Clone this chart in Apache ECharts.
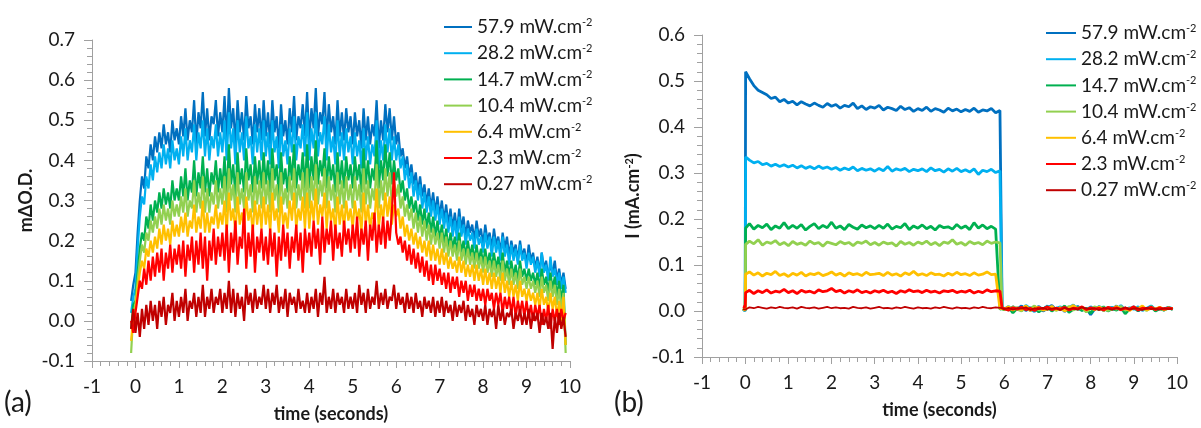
<!DOCTYPE html>
<html><head><meta charset="utf-8">
<script src="https://cdn.jsdelivr.net/npm/echarts@6.0.0/dist/echarts.min.js"></script>
<style>html,body{margin:0;padding:0;background:#fff}#c{width:1201px;height:428px}</style>
</head><body><div id="c"></div>
<script>
const names = ['57.9 mW.cm-2','28.2 mW.cm-2','14.7 mW.cm-2','10.4 mW.cm-2','6.4 mW.cm-2','2.3 mW.cm-2','0.27 mW.cm-2'];
const colors = ['#0070C0','#00B0F0','#00B050','#92D050','#FFC000','#FF0000','#C00000'];
const xTicks = [-1,0,1,2,3,4,5,6,7,8,9,10];

// Panel (a): time (s) and mΔO.D.
const tA = [-0.10,-0.05,
0.00,0.05,0.10,0.15,0.20,0.25,0.30,0.35,0.40,0.45,0.50,0.55,0.60,0.65,0.70,0.75,0.80,0.85,0.90,0.95,
1.00,1.05,1.10,1.15,1.20,1.25,1.30,1.35,1.40,1.45,1.50,1.55,1.60,1.65,1.70,1.75,1.80,1.85,1.90,1.95,
2.00,2.05,2.10,2.15,2.20,2.25,2.30,2.35,2.40,2.45,2.50,2.55,2.60,2.65,2.70,2.75,2.80,2.85,2.90,2.95,
3.00,3.05,3.10,3.15,3.20,3.25,3.30,3.35,3.40,3.45,3.50,3.55,3.60,3.65,3.70,3.75,3.80,3.85,3.90,3.95,
4.00,4.05,4.10,4.15,4.20,4.25,4.30,4.35,4.40,4.45,4.50,4.55,4.60,4.65,4.70,4.75,4.80,4.85,4.90,4.95,
5.00,5.05,5.10,5.15,5.20,5.25,5.30,5.35,5.40,5.45,5.50,5.55,5.60,5.65,5.70,5.75,5.80,5.85,5.90,5.95,
6.00,6.05,6.10,6.15,6.20,6.25,6.30,6.35,6.40,6.45,6.50,6.55,6.60,6.65,6.70,6.75,6.80,6.85,6.90,6.95,
7.00,7.05,7.10,7.15,7.20,7.25,7.30,7.35,7.40,7.45,7.50,7.55,7.60,7.65,7.70,7.75,7.80,7.85,7.90,7.95,
8.00,8.05,8.10,8.15,8.20,8.25,8.30,8.35,8.40,8.45,8.50,8.55,8.60,8.65,8.70,8.75,8.80,8.85,8.90,8.95,
9.00,9.05,9.10,9.15,9.20,9.25,9.30,9.35,9.40,9.45,9.50,9.55,9.60,9.65,9.70,9.75,9.80,9.85,9.90];

const a579 = [0.05,0.09,
0.12,0.22,0.30,0.36,0.33,0.41,0.38,0.44,0.40,0.46,0.42,0.47,0.43,0.49,0.44,0.47,0.42,0.50,0.45,0.48,
0.44,0.51,0.46,0.53,0.45,0.50,0.47,0.55,0.44,0.52,0.48,0.57,0.46,0.53,0.45,0.51,0.49,0.55,0.46,0.52,
0.47,0.56,0.45,0.58,0.48,0.53,0.44,0.55,0.47,0.52,0.45,0.56,0.48,0.51,0.44,0.54,0.47,0.53,0.45,0.55,
0.46,0.52,0.44,0.55,0.47,0.51,0.43,0.54,0.46,0.50,0.44,0.53,0.47,0.56,0.45,0.51,0.48,0.54,0.46,0.57,
0.45,0.53,0.48,0.58,0.46,0.52,0.49,0.57,0.45,0.54,0.47,0.51,0.44,0.55,0.46,0.52,0.45,0.53,0.47,0.51,
0.44,0.52,0.46,0.50,0.43,0.53,0.45,0.51,0.44,0.49,0.46,0.55,0.43,0.50,0.45,0.54,0.47,0.53,0.45,0.51,
0.44,0.47,0.41,0.43,0.38,0.41,0.36,0.39,0.34,0.37,0.32,0.36,0.31,0.34,0.29,0.33,0.28,0.32,0.27,0.31,
0.26,0.30,0.25,0.29,0.24,0.28,0.23,0.27,0.22,0.28,0.23,0.26,0.21,0.25,0.22,0.24,0.20,0.25,0.21,0.23,
0.19,0.24,0.20,0.22,0.18,0.23,0.19,0.21,0.17,0.22,0.18,0.21,0.16,0.20,0.17,0.19,0.15,0.20,0.16,0.18,
0.14,0.19,0.15,0.17,0.13,0.16,0.12,0.17,0.13,0.15,0.11,0.14,0.12,0.15,0.10,0.13,0.09,0.12,0.08];

const a282 = [0.02,0.06,
0.08,0.18,0.26,0.31,0.29,0.36,0.33,0.39,0.35,0.41,0.37,0.42,0.38,0.44,0.39,0.43,0.38,0.45,0.40,0.43,
0.39,0.46,0.41,0.48,0.40,0.45,0.42,0.49,0.40,0.47,0.43,0.50,0.41,0.48,0.40,0.46,0.43,0.49,0.41,0.47,
0.42,0.50,0.40,0.52,0.43,0.48,0.39,0.50,0.42,0.47,0.40,0.51,0.43,0.46,0.39,0.49,0.42,0.48,0.40,0.50,
0.41,0.47,0.39,0.50,0.42,0.46,0.38,0.49,0.41,0.45,0.39,0.48,0.42,0.51,0.40,0.46,0.43,0.49,0.41,0.52,
0.40,0.48,0.43,0.52,0.41,0.47,0.44,0.51,0.40,0.49,0.42,0.46,0.39,0.50,0.41,0.47,0.40,0.48,0.42,0.46,
0.39,0.47,0.41,0.45,0.38,0.48,0.40,0.46,0.39,0.44,0.41,0.50,0.38,0.45,0.40,0.49,0.42,0.48,0.40,0.46,
0.40,0.44,0.38,0.41,0.35,0.39,0.33,0.37,0.31,0.35,0.30,0.34,0.28,0.32,0.27,0.31,0.26,0.30,0.25,0.29,
0.24,0.28,0.23,0.27,0.22,0.26,0.21,0.25,0.20,0.26,0.21,0.24,0.19,0.23,0.20,0.22,0.18,0.23,0.19,0.21,
0.17,0.22,0.18,0.21,0.16,0.21,0.17,0.20,0.15,0.21,0.16,0.19,0.14,0.19,0.15,0.18,0.14,0.19,0.15,0.17,
0.13,0.17,0.14,0.16,0.12,0.15,0.11,0.17,0.12,0.14,0.10,0.16,0.11,0.13,0.09,0.12,0.08,0.11,0.07];

const a147 = [-0.02,0.04,
0.05,0.12,0.18,0.22,0.20,0.26,0.23,0.29,0.25,0.30,0.27,0.32,0.28,0.33,0.29,0.32,0.28,0.35,0.30,0.33,
0.30,0.36,0.31,0.38,0.30,0.35,0.32,0.40,0.31,0.37,0.33,0.41,0.32,0.38,0.31,0.37,0.34,0.40,0.32,0.38,
0.33,0.41,0.31,0.44,0.34,0.39,0.31,0.42,0.34,0.38,0.32,0.43,0.35,0.39,0.32,0.41,0.34,0.40,0.33,0.42,
0.34,0.40,0.32,0.43,0.35,0.39,0.31,0.42,0.34,0.38,0.32,0.41,0.35,0.44,0.33,0.39,0.35,0.42,0.33,0.44,
0.33,0.41,0.35,0.45,0.34,0.40,0.36,0.43,0.33,0.41,0.35,0.39,0.32,0.42,0.34,0.40,0.33,0.41,0.35,0.39,
0.33,0.41,0.35,0.39,0.32,0.43,0.34,0.40,0.33,0.38,0.35,0.45,0.33,0.40,0.35,0.44,0.36,0.42,0.34,0.40,
0.35,0.38,0.32,0.35,0.30,0.33,0.28,0.31,0.27,0.30,0.25,0.29,0.24,0.28,0.23,0.27,0.22,0.26,0.21,0.25,
0.20,0.24,0.19,0.23,0.18,0.22,0.18,0.21,0.17,0.22,0.17,0.20,0.16,0.20,0.16,0.19,0.15,0.19,0.15,0.18,
0.14,0.18,0.14,0.17,0.13,0.17,0.13,0.16,0.12,0.17,0.12,0.15,0.11,0.15,0.11,0.14,0.10,0.15,0.11,0.13,
0.10,0.13,0.10,0.12,0.09,0.12,0.08,0.13,0.09,0.11,0.07,0.12,0.08,0.11,0.06,0.10,0.05,0.09,-0.06];

const a104 = [-0.08,0.02,
0.04,0.10,0.15,0.19,0.17,0.22,0.20,0.25,0.22,0.26,0.23,0.28,0.24,0.29,0.25,0.28,0.24,0.30,0.26,0.29,
0.26,0.31,0.27,0.33,0.26,0.30,0.28,0.35,0.27,0.32,0.28,0.36,0.27,0.33,0.27,0.32,0.29,0.35,0.28,0.33,
0.29,0.36,0.27,0.38,0.30,0.34,0.27,0.37,0.29,0.33,0.28,0.37,0.30,0.34,0.27,0.36,0.29,0.35,0.28,0.37,
0.29,0.35,0.27,0.38,0.30,0.34,0.27,0.37,0.29,0.33,0.28,0.36,0.30,0.38,0.28,0.34,0.30,0.37,0.28,0.38,
0.28,0.36,0.30,0.39,0.29,0.35,0.31,0.38,0.28,0.36,0.30,0.34,0.27,0.37,0.29,0.35,0.28,0.36,0.30,0.34,
0.28,0.36,0.30,0.34,0.27,0.38,0.29,0.35,0.28,0.33,0.30,0.39,0.28,0.35,0.30,0.38,0.31,0.37,0.29,0.35,
0.31,0.34,0.28,0.31,0.26,0.29,0.25,0.28,0.23,0.27,0.22,0.26,0.21,0.25,0.20,0.24,0.19,0.23,0.19,0.22,
0.18,0.22,0.17,0.21,0.16,0.20,0.16,0.19,0.15,0.20,0.15,0.18,0.14,0.18,0.14,0.17,0.13,0.17,0.13,0.16,
0.12,0.16,0.12,0.15,0.11,0.15,0.11,0.14,0.10,0.15,0.10,0.13,0.09,0.13,0.09,0.12,0.08,0.13,0.09,0.11,
0.08,0.11,0.08,0.10,0.07,0.10,0.06,0.11,0.07,0.09,0.05,0.10,0.06,0.09,0.04,0.08,0.03,0.07,-0.08];

const a64 = [-0.05,0.01,
0.03,0.08,0.12,0.15,0.13,0.18,0.16,0.20,0.17,0.21,0.18,0.23,0.19,0.24,0.20,0.23,0.19,0.25,0.21,0.24,
0.21,0.26,0.22,0.27,0.21,0.25,0.23,0.29,0.22,0.26,0.23,0.30,0.22,0.27,0.22,0.26,0.24,0.29,0.23,0.27,
0.24,0.30,0.22,0.32,0.25,0.28,0.22,0.31,0.24,0.27,0.23,0.31,0.25,0.28,0.22,0.30,0.24,0.29,0.23,0.31,
0.24,0.29,0.22,0.32,0.25,0.28,0.22,0.31,0.24,0.27,0.23,0.30,0.25,0.32,0.23,0.28,0.25,0.31,0.23,0.32,
0.23,0.30,0.25,0.33,0.24,0.29,0.26,0.32,0.23,0.30,0.25,0.28,0.22,0.31,0.24,0.29,0.23,0.30,0.25,0.28,
0.23,0.30,0.25,0.28,0.22,0.32,0.24,0.29,0.23,0.27,0.25,0.33,0.23,0.29,0.25,0.32,0.26,0.31,0.24,0.29,
0.26,0.28,0.23,0.26,0.21,0.24,0.20,0.23,0.19,0.22,0.18,0.21,0.17,0.20,0.16,0.20,0.15,0.19,0.15,0.18,
0.14,0.18,0.14,0.17,0.13,0.16,0.13,0.15,0.12,0.16,0.12,0.15,0.11,0.14,0.11,0.14,0.10,0.14,0.10,0.13,
0.09,0.13,0.09,0.12,0.08,0.12,0.08,0.11,0.07,0.12,0.07,0.10,0.06,0.10,0.06,0.09,0.05,0.10,0.06,0.08,
0.05,0.08,0.05,0.07,0.04,0.07,0.03,0.08,0.04,0.06,0.02,0.07,0.03,0.06,0.01,0.05,0.00,0.06,-0.06];

const a23 = [0.00,-0.03,
0.02,0.06,0.10,0.08,0.13,0.09,0.15,0.10,0.16,0.11,0.17,0.12,0.18,0.10,0.17,0.13,0.19,0.12,0.18,0.14,
0.19,0.13,0.20,0.11,0.19,0.15,0.21,0.12,0.20,0.14,0.22,0.13,0.21,0.10,0.20,0.15,0.23,0.14,0.21,0.16,
0.22,0.15,0.24,0.12,0.22,0.17,0.25,0.14,0.21,0.18,0.28,0.13,0.22,0.16,0.24,0.12,0.21,0.17,0.23,0.15,
0.21,0.14,0.23,0.16,0.22,0.11,0.21,0.15,0.24,0.16,0.22,0.13,0.21,0.17,0.24,0.15,0.22,0.12,0.23,0.17,
0.22,0.16,0.25,0.18,0.23,0.14,0.26,0.17,0.23,0.19,0.25,0.15,0.24,0.18,0.22,0.16,0.25,0.19,0.23,0.17,
0.24,0.18,0.26,0.16,0.23,0.19,0.25,0.15,0.24,0.20,0.27,0.17,0.24,0.19,0.26,0.18,0.25,0.20,0.27,0.37,
0.22,0.19,0.21,0.17,0.20,0.15,0.19,0.14,0.18,0.13,0.17,0.12,0.16,0.11,0.15,0.10,0.14,0.09,0.14,0.10,
0.13,0.09,0.12,0.08,0.12,0.07,0.11,0.08,0.11,0.06,0.10,0.07,0.10,0.05,0.09,0.06,0.09,0.05,0.08,0.05,
0.08,0.04,0.08,0.05,0.07,0.03,0.07,0.04,0.07,0.02,0.06,0.03,0.06,0.02,0.06,0.01,0.05,0.02,0.05,0.01,
0.05,0.01,0.04,0.00,0.04,0.01,0.04,-0.01,0.03,0.00,0.04,-0.02,0.03,0.00,0.03,-0.01,0.03,0.00,0.02];

const a027 = [-0.02,0.03,
-0.03,0.02,-0.04,0.03,-0.02,0.04,-0.01,0.05,0.00,0.04,-0.02,0.05,0.01,0.06,-0.01,0.04,0.02,0.07,0.00,0.05,
0.01,0.06,0.02,0.08,0.00,0.05,0.03,0.07,0.01,0.06,0.02,0.09,0.01,0.06,0.03,0.08,0.02,0.06,0.04,0.08,
0.02,0.07,0.03,0.10,0.02,0.08,0.01,0.07,0.03,0.06,0.00,0.09,0.04,0.07,0.02,0.08,0.03,0.06,0.04,0.09,
0.03,0.08,0.02,0.07,0.04,0.09,0.02,0.06,0.03,0.08,0.01,0.07,0.04,0.06,0.02,0.08,0.03,0.05,0.02,0.07,
0.02,0.06,0.03,0.08,0.01,0.07,0.04,0.11,0.02,0.06,0.03,0.08,0.02,0.07,0.04,0.06,0.02,0.08,0.03,0.06,
0.03,0.07,0.02,0.09,0.04,0.07,0.02,0.08,0.03,0.06,0.04,0.10,0.03,0.07,0.04,0.08,0.03,0.06,0.05,0.09,
0.03,0.07,0.04,0.06,0.02,0.07,0.03,0.06,0.02,0.07,0.03,0.05,0.01,0.06,0.03,0.05,0.02,0.06,0.01,0.05,
0.02,0.06,0.01,0.05,0.02,0.04,0.00,0.05,0.01,0.04,0.02,0.05,0.00,0.04,0.01,0.03,-0.01,0.04,0.01,0.03,
0.00,0.04,-0.01,0.03,0.01,0.03,-0.02,0.04,0.00,0.03,-0.01,0.02,0.01,0.03,-0.02,0.02,0.00,0.03,-0.01,0.02,
-0.01,0.03,-0.02,0.02,0.00,0.02,-0.03,0.02,-0.01,0.01,-0.02,0.02,-0.07,0.01,-0.03,0.02,-0.02,0.01,-0.04];

// Panel (b): time (s) and current density I (mA.cm-2)
const tB = [-0.05,0.00,0.01,
0.1,0.2,0.3,0.4,0.5,0.6,0.7,0.8,0.9,1.0,
1.1,1.2,1.3,1.4,1.5,1.6,1.7,1.8,1.9,2.0,
2.1,2.2,2.3,2.4,2.5,2.6,2.7,2.8,2.9,3.0,
3.1,3.2,3.3,3.4,3.5,3.6,3.7,3.8,3.9,4.0,
4.1,4.2,4.3,4.4,4.5,4.6,4.7,4.8,4.9,5.0,
5.1,5.2,5.3,5.4,5.5,5.6,5.7,5.8,5.9,
5.95,
6.0,6.1,6.2,6.3,6.4,6.5,6.6,6.7,6.8,6.9,
7.0,7.1,7.2,7.3,7.4,7.5,7.6,7.7,7.8,7.9,
8.0,8.1,8.2,8.3,8.4,8.5,8.6,8.7,8.8,8.9,
9.0,9.1,9.2,9.3,9.4,9.5,9.6,9.7,9.8,9.9];

const b579 = [0.005,0.000,0.52,
0.505,0.49,0.48,0.475,0.47,0.462,0.465,0.455,0.46,0.452,
0.456,0.448,0.455,0.45,0.446,0.452,0.447,0.443,0.451,0.445,
0.449,0.441,0.447,0.444,0.452,0.44,0.446,0.438,0.444,0.441,
0.447,0.437,0.443,0.44,0.436,0.445,0.438,0.442,0.434,0.44,
0.436,0.443,0.434,0.44,0.437,0.432,0.441,0.435,0.439,0.433,
0.438,0.434,0.441,0.432,0.437,0.435,0.44,0.431,0.436,
0.005,
0.006,0.002,0.009,0.004,0.011,0.001,0.007,0.003,0.010,0.000,
0.006,0.012,0.003,0.008,-0.001,0.007,0.004,0.010,0.002,0.006,
-0.008,0.005,0.009,0.001,0.007,0.003,0.011,0.002,0.006,0.004,
0.009,0.000,0.007,0.003,0.010,0.002,0.006,0.004,0.008,0.003];

const b282 = [0.004,0.000,0.335,
0.328,0.322,0.325,0.318,0.321,0.315,0.319,0.314,0.318,0.313,
0.317,0.311,0.316,0.31,0.314,0.309,0.315,0.31,0.313,0.308,
0.312,0.306,0.311,0.307,0.313,0.305,0.31,0.306,0.309,0.304,
0.31,0.305,0.314,0.304,0.309,0.306,0.31,0.303,0.308,0.305,
0.309,0.303,0.311,0.305,0.308,0.302,0.309,0.304,0.31,0.303,
0.307,0.302,0.309,0.297,0.306,0.303,0.308,0.301,0.305,
0.006,
0.004,0.010,0.001,0.007,0.003,0.012,0.005,-0.001,0.008,0.004,
0.011,0.002,0.006,0.009,0.000,0.007,0.013,0.003,0.006,0.002,
0.009,0.004,0.010,0.001,0.006,0.008,0.003,0.012,0.002,0.007,
0.004,0.009,0.001,0.006,0.011,0.003,0.007,0.002,0.008,0.005];

const b147 = [0.006,0.002,0.18,
0.19,0.178,0.186,0.181,0.189,0.177,0.185,0.18,0.192,0.179,
0.186,0.18,0.188,0.176,0.184,0.19,0.179,0.186,0.181,0.193,
0.18,0.185,0.177,0.188,0.182,0.178,0.187,0.181,0.185,0.179,
0.186,0.18,0.189,0.178,0.184,0.181,0.19,0.177,0.185,0.18,
0.187,0.179,0.184,0.176,0.186,0.181,0.183,0.178,0.188,0.18,
0.185,0.177,0.192,0.18,0.187,0.179,0.184,0.178,0.004,
0.005,
0.003,0.008,-0.004,0.006,0.002,0.010,0.001,0.007,-0.002,0.005,
0.009,0.000,0.006,0.003,0.011,-0.003,0.004,0.008,0.001,0.006,
-0.005,0.007,0.003,0.009,0.000,0.005,0.002,0.008,-0.006,0.004,
0.007,0.001,0.006,0.003,0.009,0.000,0.005,0.002,0.007,0.004];

const b104 = [0.005,0.001,0.145,
0.152,0.146,0.155,0.143,0.15,0.147,0.153,0.144,0.149,0.142,
0.151,0.145,0.148,0.143,0.152,0.146,0.149,0.141,0.15,0.147,
0.144,0.151,0.146,0.149,0.142,0.15,0.147,0.152,0.144,0.149,
0.143,0.15,0.146,0.148,0.141,0.151,0.145,0.149,0.143,0.15,
0.146,0.152,0.144,0.149,0.142,0.15,0.147,0.155,0.145,0.149,
0.143,0.151,0.146,0.149,0.144,0.152,0.147,0.15,0.148,
0.004,
0.006,0.002,0.009,0.004,0.000,0.008,0.005,0.011,0.002,0.006,
0.003,0.009,0.001,0.007,0.004,0.010,0.002,0.006,0.008,-0.002,
0.005,0.009,0.003,0.007,0.001,0.006,0.004,0.010,0.002,0.005,
0.008,0.003,0.006,0.001,0.009,0.004,0.007,0.002,0.006,0.004];

const b64 = [0.005,0.002,0.08,
0.085,0.078,0.083,0.076,0.082,0.079,0.086,0.077,0.081,0.075,
0.082,0.078,0.084,0.076,0.081,0.079,0.083,0.077,0.08,0.085,
0.078,0.082,0.076,0.083,0.079,0.081,0.077,0.084,0.079,0.08,
0.082,0.077,0.084,0.078,0.081,0.076,0.083,0.079,0.086,0.078,
0.081,0.077,0.083,0.079,0.08,0.076,0.082,0.078,0.084,0.079,
0.081,0.077,0.083,0.078,0.08,0.085,0.079,0.08,0.005,
0.006,
0.004,0.009,0.002,0.007,0.003,0.011,0.001,0.006,0.008,0.002,
0.005,0.010,0.003,0.007,0.000,0.006,0.012,0.004,0.008,0.002,
0.006,0.003,0.009,0.001,0.007,0.004,0.010,0.003,0.006,0.001,
0.008,0.005,0.011,0.002,0.006,0.004,0.008,0.003,0.007,0.005];

const b23 = [0.01,0.008,0.04,
0.045,0.038,0.044,0.04,0.046,0.039,0.043,0.041,0.047,0.04,
0.044,0.038,0.045,0.041,0.043,0.039,0.046,0.042,0.044,0.049,
0.042,0.045,0.039,0.044,0.041,0.046,0.04,0.043,0.039,0.044,
0.041,0.045,0.04,0.043,0.038,0.044,0.041,0.046,0.042,0.044,
0.04,0.045,0.041,0.043,0.039,0.044,0.042,0.045,0.04,0.043,
0.041,0.045,0.039,0.043,0.04,0.046,0.042,0.044,0.043,
0.006,
0.005,0.002,0.007,0.004,0.008,0.003,0.006,0.001,0.007,0.005,
0.009,0.003,0.006,0.004,0.008,0.002,0.006,0.005,0.009,0.003,
0.007,0.004,0.006,0.002,0.008,0.005,0.007,0.003,0.006,0.004,
0.009,0.002,0.006,0.005,0.008,0.003,0.007,0.004,0.006,0.005];

const b027 = [0.004,0.003,0.007,
0.008,0.006,0.009,0.007,0.005,0.008,0.006,0.009,0.007,0.006,
0.008,0.005,0.009,0.007,0.006,0.008,0.005,0.007,0.009,0.006,
0.008,0.006,0.007,0.005,0.009,0.007,0.006,0.008,0.005,0.007,
0.009,0.006,0.007,0.005,0.008,0.006,0.009,0.007,0.005,0.008,
0.006,0.007,0.005,0.008,0.006,0.009,0.007,0.005,0.008,0.006,
0.007,0.005,0.008,0.006,0.009,0.007,0.006,0.008,0.007,
0.006,
0.004,0.007,0.003,0.006,0.005,0.008,0.002,0.006,0.004,0.007,
0.003,0.005,0.006,0.002,0.007,0.004,0.006,0.003,0.008,0.005,
0.004,0.006,0.002,0.007,0.005,0.003,0.006,0.004,0.008,0.003,
0.005,0.006,0.002,0.007,0.004,0.005,0.003,0.006,0.004,0.005];

const seriesA = [a579,a282,a147,a104,a64,a23,a027];
const seriesB = [b579,b282,b147,b104,b64,b23,b027];
seriesA.forEach((s,i)=>{ if (s.length !== tA.length) throw new Error('A'+i+' len '+s.length+' vs '+tA.length); });
seriesB.forEach((s,i)=>{ if (s.length !== tB.length) throw new Error('B'+i+' len '+s.length+' vs '+tB.length); });

const FONT = 'Lato, Carlito, "Open Sans", sans-serif';
const TXT = '#1a1a1a';
const AX = '#a0a0a0';

function xAxis(gi) {
  return {
    type: 'value', gridIndex: gi, min: xTicks[0], max: xTicks[xTicks.length-1], interval: 1,
    name: 'time (seconds)', nameLocation: 'middle', nameGap: 44,
    nameTextStyle: {fontFamily: FONT, fontSize: 18, fontWeight: 'bold', color: TXT},
    axisLine: {show: true, onZero: false, lineStyle: {color: AX, width: 1}},
    axisTick: {show: true, length: 7, lineStyle: {color: AX}},
    minorTick: {show: true, splitNumber: 5, length: 5, lineStyle: {color: AX}},
    splitLine: {show: false}, minorSplitLine: {show: false},
    axisLabel: {fontFamily: FONT, fontSize: 19, color: TXT, margin: 16}
  };
}
function yAxis(gi, max, name, gap) {
  return {
    type: 'value', gridIndex: gi, min: -0.1, max: max, interval: 0.1,
    name: name, nameLocation: 'middle', nameGap: gap, nameRotate: 90,
    nameTextStyle: {fontFamily: FONT, fontSize: 18, fontWeight: 'bold', color: TXT,
      rich: {s: {fontFamily: FONT, fontSize: 11, fontWeight: 'bold', color: TXT, verticalAlign: 'top'}}},
    axisLine: {show: true, onZero: false, lineStyle: {color: AX, width: 1}},
    axisTick: {show: true, length: 8, lineStyle: {color: AX}},
    minorTick: {show: true, splitNumber: 5, length: 5, lineStyle: {color: AX}},
    splitLine: {show: false}, minorSplitLine: {show: false},
    axisLabel: {fontFamily: FONT, fontSize: 19, color: TXT, margin: 17,
      formatter: v => (Math.abs(v) < 1e-9 ? 0 : v).toFixed(1)}
  };
}
function legend(left, top, iw) {
  return {
    data: names, orient: 'vertical', left: left, top: top, itemGap: 6.7, padding: 0,
    itemWidth: iw, itemHeight: 2, icon: 'rect', selectedMode: false,
    formatter: n => '{n|' + n.replace('-2', '') + '}{s|-2}',
    textStyle: {fontFamily: FONT, color: TXT,
      rich: {n: {fontFamily: FONT, fontSize: 19, color: TXT, lineHeight: 20},
             s: {fontFamily: FONT, fontSize: 11, color: TXT, verticalAlign: 'top'}}}
  };
}

const series = [];
seriesA.forEach((s, i) => series.push({
  type: 'line', name: names[i], xAxisIndex: 0, yAxisIndex: 0,
  data: tA.map((t, k) => [t, s[k]]), showSymbol: false, symbol: 'none', silent: true,
  lineStyle: {width: 2.2, color: colors[i], join: 'bevel'}, itemStyle: {color: colors[i]}
}));
seriesB.forEach((s, i) => series.push({
  type: 'line', name: names[i], xAxisIndex: 1, yAxisIndex: 1,
  data: tB.map((t, k) => [t, s[k]]), showSymbol: false, symbol: 'none', silent: true,
  lineStyle: {width: i === 6 ? 1.8 : 2.8, color: colors[i], join: 'bevel'}, itemStyle: {color: colors[i]}
}));

const chart = echarts.init(document.getElementById('c'), null, {renderer: 'canvas'});
chart.setOption({
  animation: false,
  backgroundColor: '#fff',
  grid: [
    {left: 92, right: 631, top: 40, bottom: 67},
    {left: 702, right: 24, top: 35, bottom: 71}
  ],
  xAxis: [xAxis(0), xAxis(1)],
  yAxis: [yAxis(0, 0.7, 'mΔO.D.', 57), yAxis(1, 0.6, 'I (mA.cm{s|-2})', 60)],
  legend: [legend(444, 17, 28), legend(1046, 23, 30)],
  graphic: [
    {type: 'text', left: 4, top: 389, style: {text: '(a)', fontFamily: FONT, fontSize: 28, fill: TXT}},
    {type: 'text', left: 614, top: 389, style: {text: '(b)', fontFamily: FONT, fontSize: 28, fill: TXT}}
  ],
  series: series
});
</script>
</body></html>
